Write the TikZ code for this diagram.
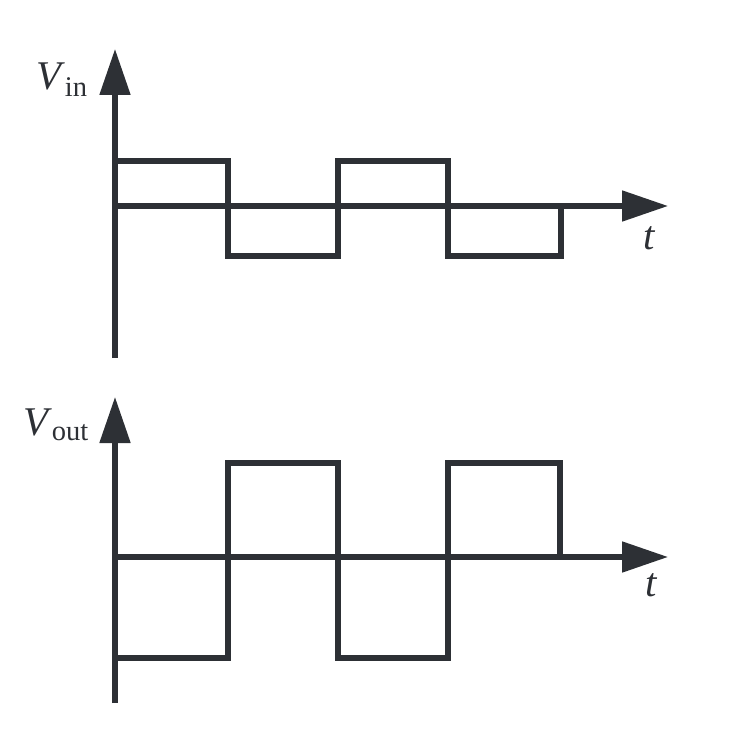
\documentclass[tikz,border=0pt]{standalone}
\usepackage{fontspec}
\setmainfont{Liberation Serif}
\usetikzlibrary{arrows.meta}
\definecolor{wavegray}{HTML}{2D3035}
\begin{document}
\begin{tikzpicture}[x=0.25mm,y=-0.25mm,
  every node/.style={text=wavegray,font=\fontsize{29}{32}\selectfont},
  axis/.style={draw,wavegray,line width=3.6pt,-{Triangle[length=11.5mm,width=7.5mm]}},
  wave/.style={draw,wavegray,line width=3.6pt,line join=miter,line cap=butt}]
\useasboundingbox (0,0) rectangle (754,737);
% input
\coordinate (in0) at (115,358);
\coordinate (inY) at (115,49);
\coordinate (inO) at (115,206);
\coordinate (inX) at (668,206);
\path[axis] (in0) -- (inY);
\path[axis] (inO) -- (inX);
\path[wave] (115,161) -- (228,161) -- (228,256) -- (338,256) -- (338,161) -- (448,161) -- (448,256) -- (561,256) -- (561,206);
\node (vin) at (62,80) {\textit{V}\textsubscript{in}};
\node (tin) at (650,238) {\textit{t}};
% output
\coordinate (out0) at (115,703);
\coordinate (outY) at (115,397);
\coordinate (outO) at (115,557);
\coordinate (outX) at (668,557);
\path[axis] (out0) -- (outY);
\path[axis] (outO) -- (outX);
\path[wave] (115,658) -- (228,658) -- (228,463) -- (338,463) -- (338,658) -- (448,658) -- (448,463) -- (560,463) -- (560,557);
\node (vout) at (56,425) {\textit{V}\textsubscript{out}};
\node (tout) at (652,585) {\textit{t}};
\end{tikzpicture}
\end{document}
